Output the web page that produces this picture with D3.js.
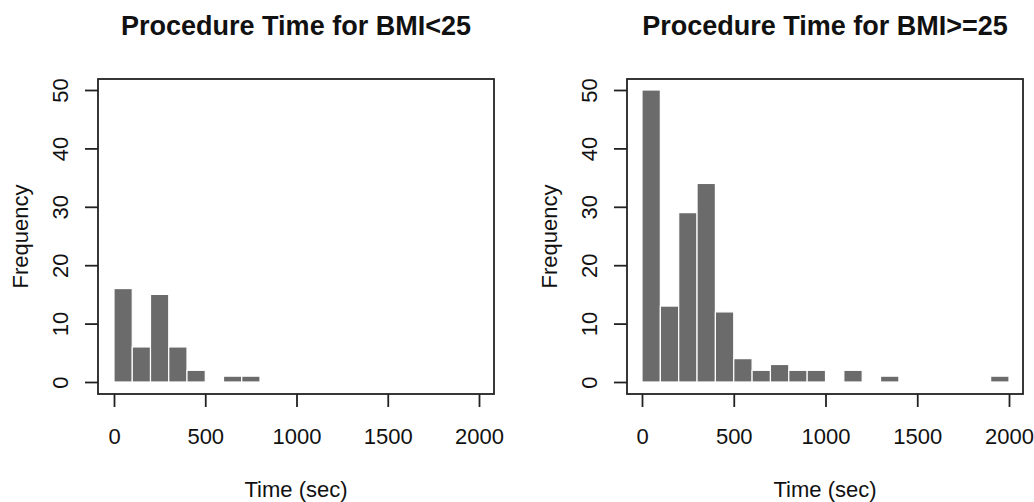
<!DOCTYPE html>
<html>
<head>
<meta charset="utf-8">
<script src="https://cdnjs.cloudflare.com/ajax/libs/d3/7.8.5/d3.min.js"></script>
<style>
  body { margin: 0; background: #fff; }
  svg text { font-family: "Liberation Sans", Arial, sans-serif; fill: #111; }
</style>
</head>
<body>
<svg id="chart" width="1034" height="502"></svg>
<script>
// bin edges, 100 sec wide
var binStarts = d3.range(0, 2000, 100);
var binWidth = 100;

// counts
var countsLow = [16, 6, 15, 6, 2, 0, 1, 1, 0, 0, 0, 0, 0, 0, 0, 0, 0, 0, 0, 0];
var countsHigh = [50, 13, 29, 34, 12, 4, 2, 3, 2, 2, 0, 2, 0, 1, 0, 0, 0, 0, 0, 1];

var titles = ["Procedure Time for BMI<25", "Procedure Time for BMI>=25"];
var xTicks = [0, 500, 1000, 1500, 2000];
var yTicks = [0, 10, 20, 30, 40, 50];

var svg = d3.select("#chart");

var panels = [
    { title: titles[0], counts: countsLow, box: [98, 494], x0: 114, x1: 479 },
    { title: titles[1], counts: countsHigh, box: [627, 1023], x0: 642, x1: 1009 }
];

var boxTop = 79, boxBottom = 394;

panels.forEach(function(p) {
    var x = d3.scaleLinear().domain([0, 2000]).range([p.x0, p.x1]);
    var y = d3.scaleLinear().domain([0, 50]).range([382, 90]);

    var g = svg.append("g");

    var bars = binStarts.map(function(s, i) { return { start: s, n: p.counts[i] }; })
        .filter(function(d) { return d.n > 0; });

    g.selectAll("rect.bar").data(bars).enter().append("rect")
        .attr("class", "bar")
        .attr("x", function(d) { return x(d.start); })
        .attr("width", function(d) { return x(d.start + binWidth) - x(d.start); })
        .attr("y", function(d) { return y(d.n); })
        .attr("height", function(d) { return y(0) - y(d.n); })
        .attr("fill", "#6b6b6b")
        .attr("stroke", "#ffffff")
        .attr("stroke-width", 1.2);

    // frame
    g.append("rect")
        .attr("x", p.box[0]).attr("y", boxTop)
        .attr("width", p.box[1] - p.box[0]).attr("height", boxBottom - boxTop)
        .attr("fill", "none").attr("stroke", "#222").attr("stroke-width", 1.8);

    // x axis
    var xa = g.append("g")
        .attr("transform", "translate(0," + boxBottom + ")")
        .call(d3.axisBottom(x).tickValues(xTicks).tickSize(13).tickPadding(21).tickFormat(d3.format("d")));
    xa.select(".domain").remove();
    xa.selectAll("line").attr("stroke", "#222").attr("stroke-width", 1.8);
    xa.selectAll("text").style("font-size", "22px").attr("fill", "#111");

    // y axis
    var ya = g.append("g")
        .attr("transform", "translate(" + p.box[0] + ",0)")
        .call(d3.axisLeft(y).tickValues(yTicks).tickSize(13).tickPadding(0));
    ya.select(".domain").remove();
    ya.selectAll("line").attr("stroke", "#222").attr("stroke-width", 1.8);
    ya.selectAll("text")
        .style("font-size", "22px")
        .attr("text-anchor", "middle")
        .attr("dy", null)
        .attr("x", null)
        .attr("transform", "translate(-38,0) rotate(-90)")
        .attr("dominant-baseline", "central");

    // labels
    g.append("text")
        .attr("x", (p.box[0] + p.box[1]) / 2).attr("y", 35)
        .attr("text-anchor", "middle")
        .style("font-size", "27px").style("font-weight", "bold")
        .text(p.title);

    g.append("text")
        .attr("x", (p.box[0] + p.box[1]) / 2).attr("y", 497)
        .attr("text-anchor", "middle")
        .style("font-size", "22px")
        .text("Time (sec)");

    g.append("text")
        .attr("transform", "translate(" + (p.box[0] - 70) + "," + ((boxTop + boxBottom) / 2) + ") rotate(-90)")
        .attr("text-anchor", "middle")
        .style("font-size", "22px")
        .text("Frequency");
});
</script>
</body>
</html>
